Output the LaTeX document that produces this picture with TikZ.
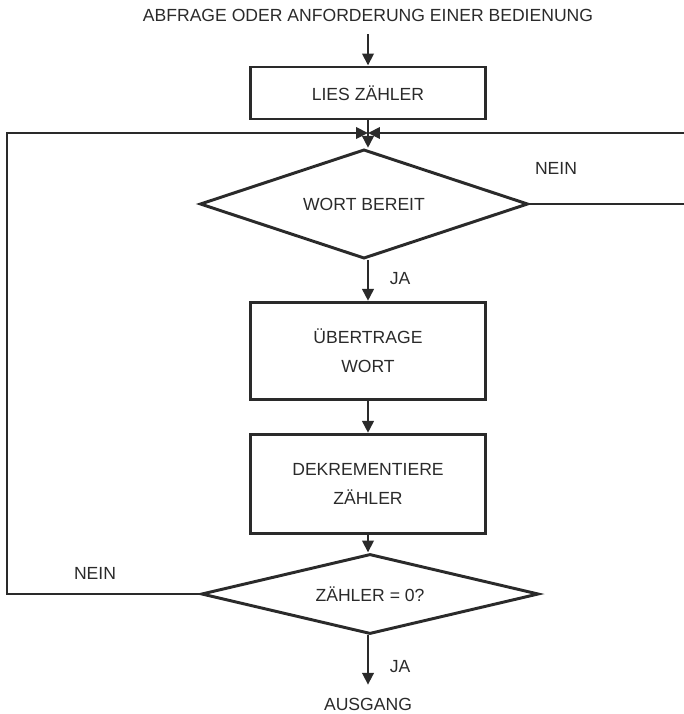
\documentclass[tikz,border=0pt]{standalone}
\usepackage{fontspec}
\setmainfont{Liberation Sans}
\usetikzlibrary{arrows.meta, shapes.geometric}
\definecolor{FlowInk}{HTML}{2A2A2A}

\begin{document}
\begin{tikzpicture}[x=0.025cm, y=-0.025cm, color=FlowInk,
  font=\fontsize{12.5}{20.5}\selectfont,
  flowarrow/.style={line width=2.1pt, -{Triangle[length=8.5pt, width=8pt]}},
  procbox/.style={draw, line width=2.1pt, rectangle, minimum width=5.85cm, align=center},
  testbox/.style={draw, line width=2.1pt, diamond, aspect=4, inner sep=0pt, align=center}]
  \useasboundingbox (0,0) rectangle (683,714);
  % Texte oben und unten
  \node (start) at (368,15) {ABFRAGE ODER ANFORDERUNG EINER BEDIENUNG};
  \node (ausgang) at (368,704) {AUSGANG};
  % Verarbeitungsschritte
  \node[procbox, minimum height=1.3cm] (lies) at (368,93) {LIES ZÄHLER};
  \node[testbox, minimum width=8.2cm, minimum height=2.73cm] (wort) at (364,204) {WORT BEREIT};
  \node[procbox, minimum height=2.43cm] (uebertrage) at (368,351) {ÜBERTRAGE\\WORT};
  \node[procbox, minimum height=2.48cm] (dekrement) at (368,484) {DEKREMENTIERE\\ZÄHLER};
  \node[testbox, minimum width=8.43cm, minimum height=2.0cm] (zaehler) at (370,594) {ZÄHLER = 0?};
  % Rueckfuehrung
  \coordinate (join) at (368,133);
  \coordinate (lturn) at (7,133);
  \coordinate (rturn) at (700,133);
  % Verbindungen
  \draw[flowarrow, shorten <=0.2cm] (start) -- (lies);
  \draw[flowarrow] (lies) -- (lies |- wort.north);
  \draw[flowarrow] (lies |- wort.south) -- (uebertrage);
  \draw[flowarrow] (uebertrage) -- (dekrement);
  \draw[flowarrow] (dekrement) -- (dekrement |- zaehler.north);
  \draw[flowarrow, shorten >=0.2cm] (dekrement |- zaehler.south) -- (ausgang);
  \draw[flowarrow] (zaehler.west) -| (lturn) -- (join);
  \draw[flowarrow] (wort.east) -| (rturn) -- (join);
  % Beschriftungen
  \node at (556,168) {NEIN};
  \node at (95,573) {NEIN};
  \node at (400,279) {JA};
  \node at (400,667) {JA};
\end{tikzpicture}
\end{document}
